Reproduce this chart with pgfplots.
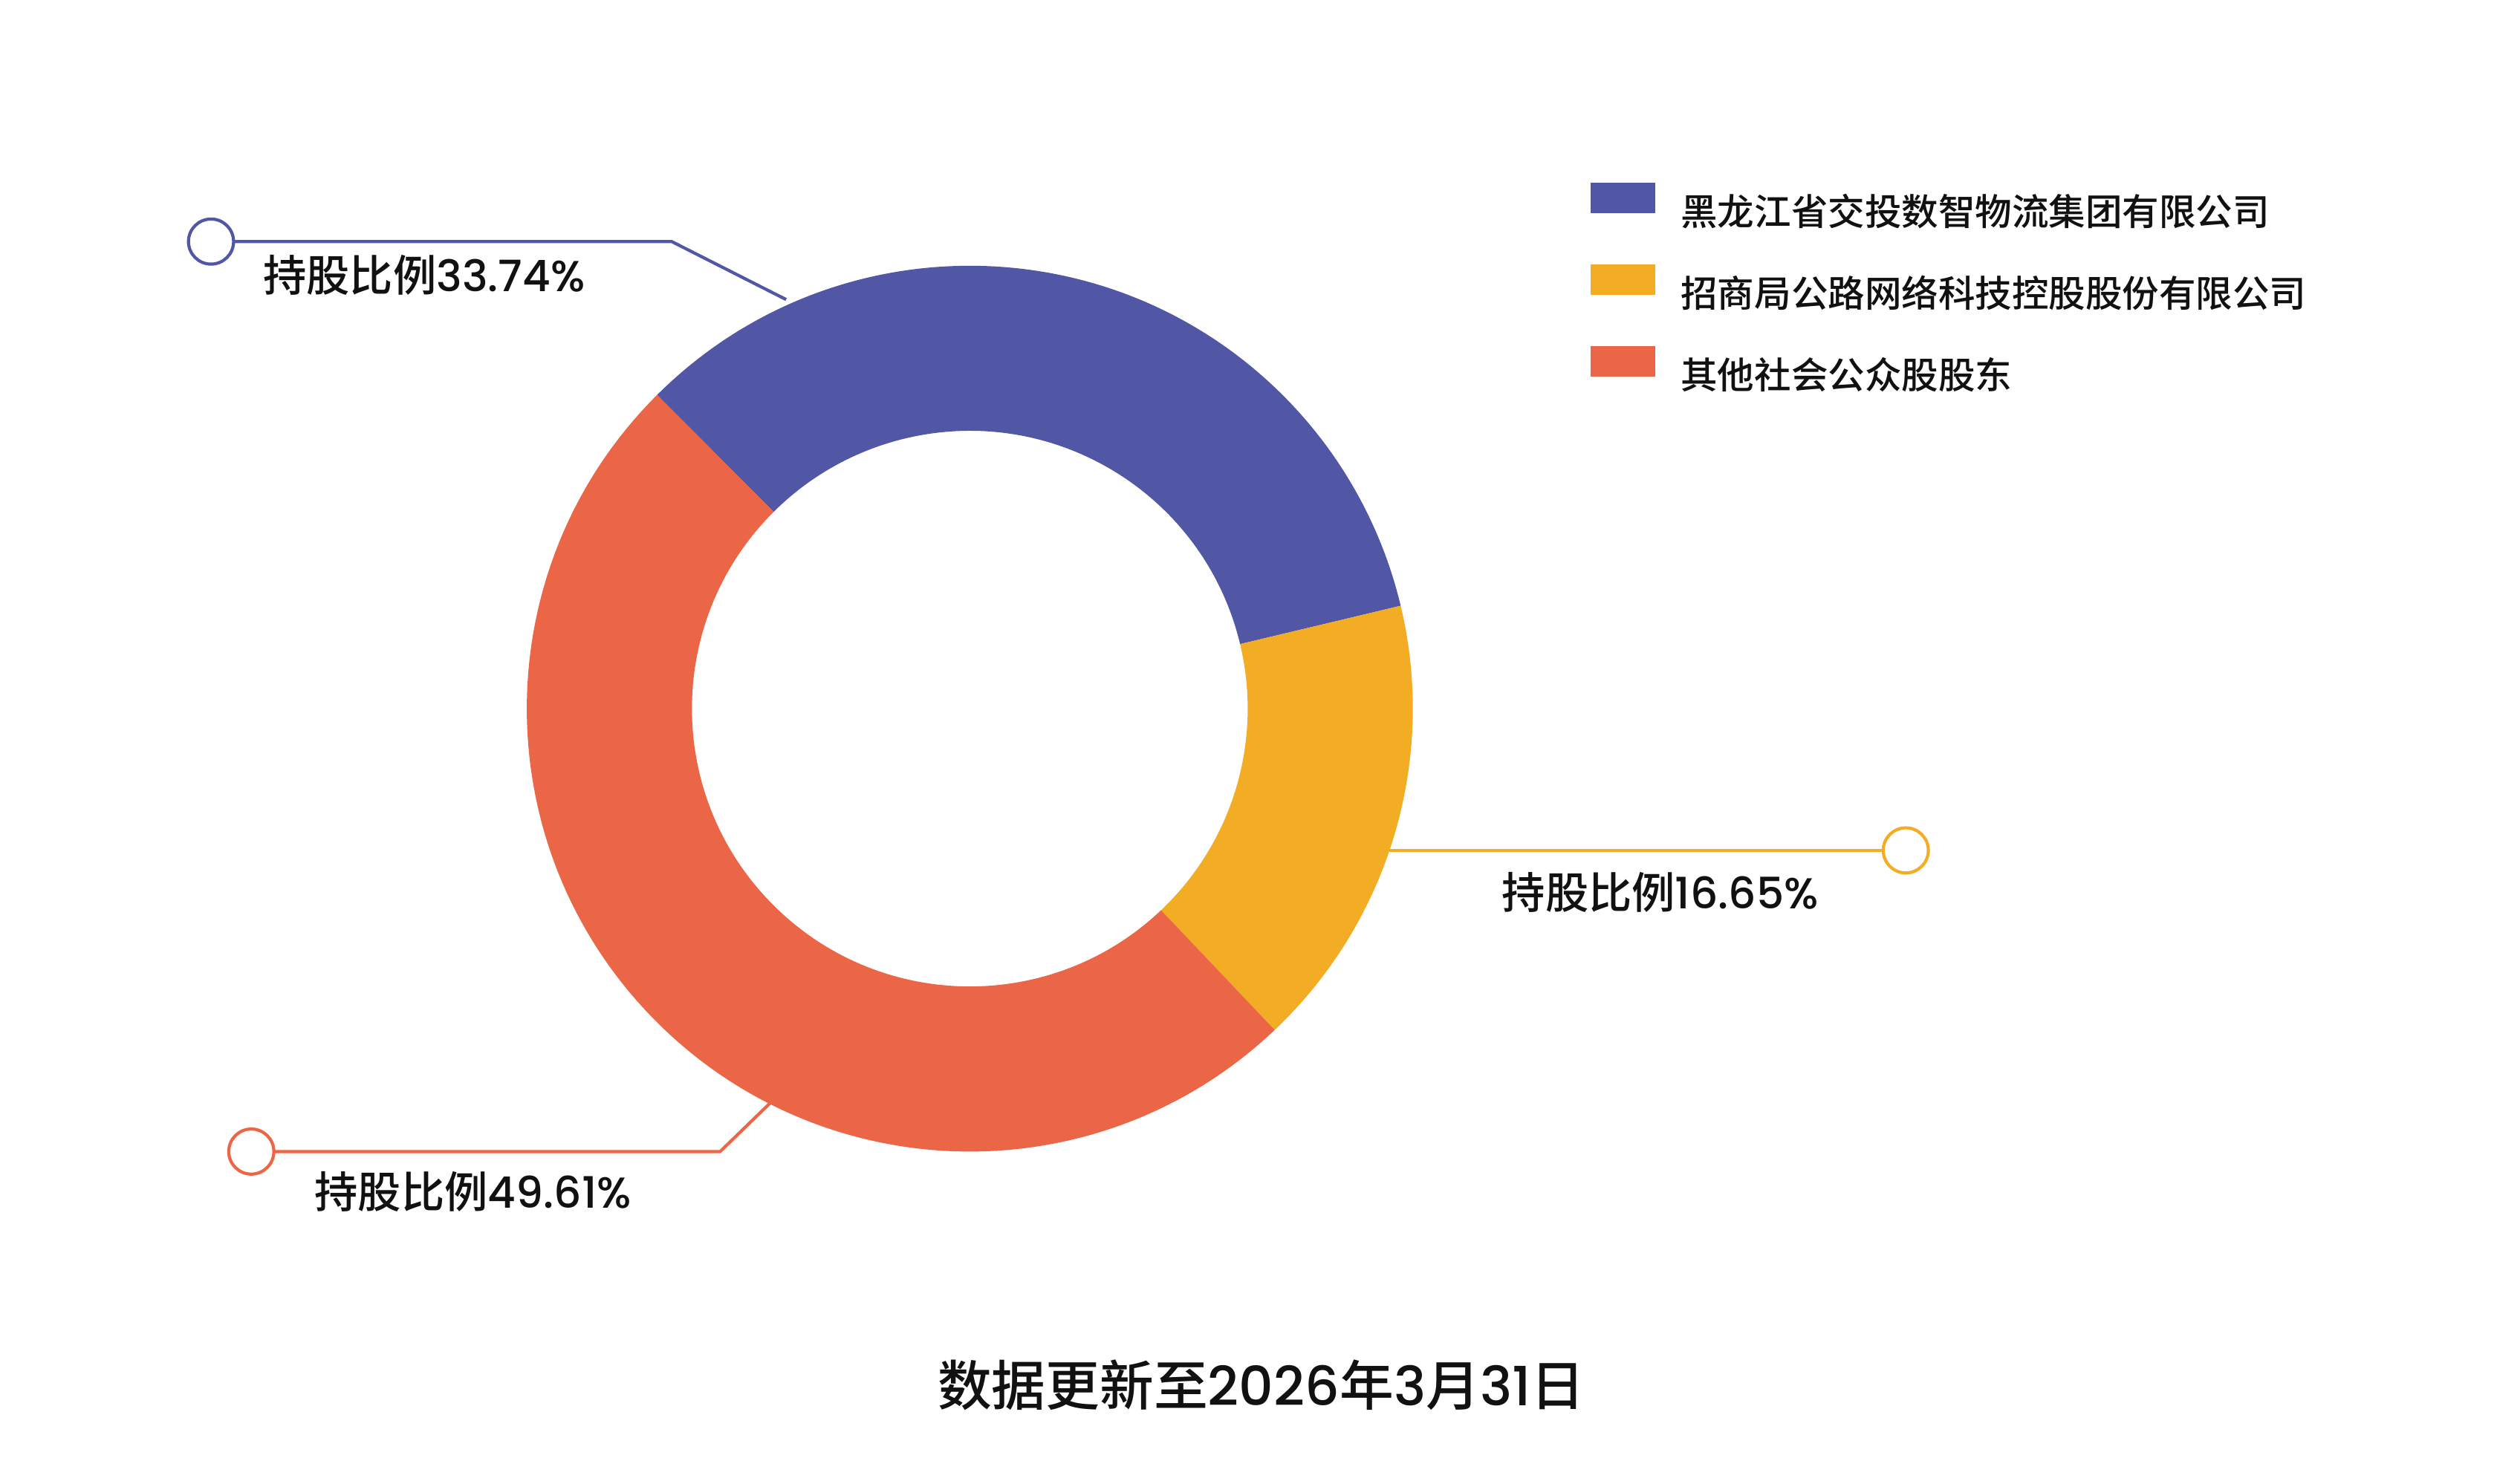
\documentclass[border=0pt]{standalone}
\usepackage{pgfplots}
\pgfplotsset{compat=1.18}
\usepackage{pgfplotstable}
\usepackage{fontspec}
\setmainfont{Poppins}[BoldFont={* Medium}]
\newfontfamily\cjk{Noto Sans CJK SC}[BoldFont={* Medium}]

\definecolor{sliceA}{HTML}{5157A5}
\definecolor{sliceB}{HTML}{F3AD25}
\definecolor{sliceC}{HTML}{EB6646}
\definecolor{txt}{HTML}{111111}

% shares in percent, clockwise from the top-left boundary
\pgfplotstableread{
share
33.74
16.65
49.61
}\shares

% ring slice: start angle, end angle, colour
\newcommand\slice[3]{%
  \fill[#3] (axis cs:602,481) ++(#1:5.5cm) arc[start angle=#1, end angle=#2, radius=5.5cm]
    -- ++(#2:-2.05cm) arc[start angle=#2, end angle=#1, radius=3.45cm] -- cycle;}

\begin{document}
\begin{tikzpicture}
\begin{axis}[
    width=31cm, height=18.42cm, scale only axis,
    xmin=0, xmax=1550, ymin=0, ymax=921,
    hide axis, clip=false,
    legend cell align=left,
    legend image code/.code={\fill[#1] (0cm,-0.015cm) rectangle (0.8cm,0.365cm);},
    legend style={at={(axis cs:987,808)}, anchor=north west, draw=none, fill=none,
        inner sep=0pt, row sep=0.46cm, column sep=0.32cm,
        font=\fontsize{13}{16}\selectfont\bfseries, text=txt,
        nodes={inner sep=0pt, text height=0.36cm, text depth=0.02cm}},
]
\path (rel axis cs:0,0) rectangle (rel axis cs:1,1);

\addlegendimage{fill=sliceA, draw=none}
\addlegendentry{\cjk 黑龙江省交投数智物流集团有限公司}
\addlegendimage{fill=sliceB, draw=none}
\addlegendentry{\cjk 招商局公路网络科技控股股份有限公司}
\addlegendimage{fill=sliceC, draw=none}
\addlegendentry{\cjk 其他社会公众股股东}

\pgfplotsextra{
  \pgfmathsetmacro\aA{134.9}
  \pgfplotstablegetelem{0}{share}\of\shares
  \pgfmathsetmacro\aB{\aA-3.6*\pgfplotsretval}
  \pgfplotstablegetelem{1}{share}\of\shares
  \pgfmathsetmacro\aC{\aB-3.6*\pgfplotsretval}
  \pgfplotstablegetelem{2}{share}\of\shares
  \pgfmathsetmacro\aD{\aC-3.6*\pgfplotsretval}
  \slice{\aA}{\aB}{sliceA}
  \slice{\aB}{\aC}{sliceB}
  \slice{\aC}{\aD}{sliceC}
}

% leader lines
\draw[sliceA, line width=1.1pt] (axis cs:145,771) -- (axis cs:417,771) -- (axis cs:488,735);
\draw[sliceA, line width=1.1pt] (axis cs:131,771) circle[radius=0.28cm];
\draw[sliceB, line width=1.1pt] (axis cs:862,393) -- (axis cs:1169,393);
\draw[sliceB, line width=1.1pt] (axis cs:1183,393) circle[radius=0.28cm];
\draw[sliceC, line width=1.1pt] (axis cs:170,206) -- (axis cs:447,206) -- (axis cs:480,238);
\draw[sliceC, line width=1.1pt] (axis cs:156,206) circle[radius=0.28cm];

\begin{scope}[every node/.style={anchor=west, inner sep=0pt, text=txt,
    font=\fontsize{15.3}{18}\selectfont\bfseries}]
\node at (axis cs:163,750) {{\cjk 持股比例}33.74\%};
\node at (axis cs:932,367) {{\cjk 持股比例}16.65\%};
\node at (axis cs:195,181) {{\cjk 持股比例}49.61\%};
\end{scope}

\node[text=txt, inner sep=0pt, font=\fontsize{19.1}{23}\selectfont\bfseries]
  at (axis cs:783,61) {{\cjk 数据更新至}2026{\cjk 年}3{\cjk 月}31{\cjk 日}};
\end{axis}
\end{tikzpicture}
\end{document}
